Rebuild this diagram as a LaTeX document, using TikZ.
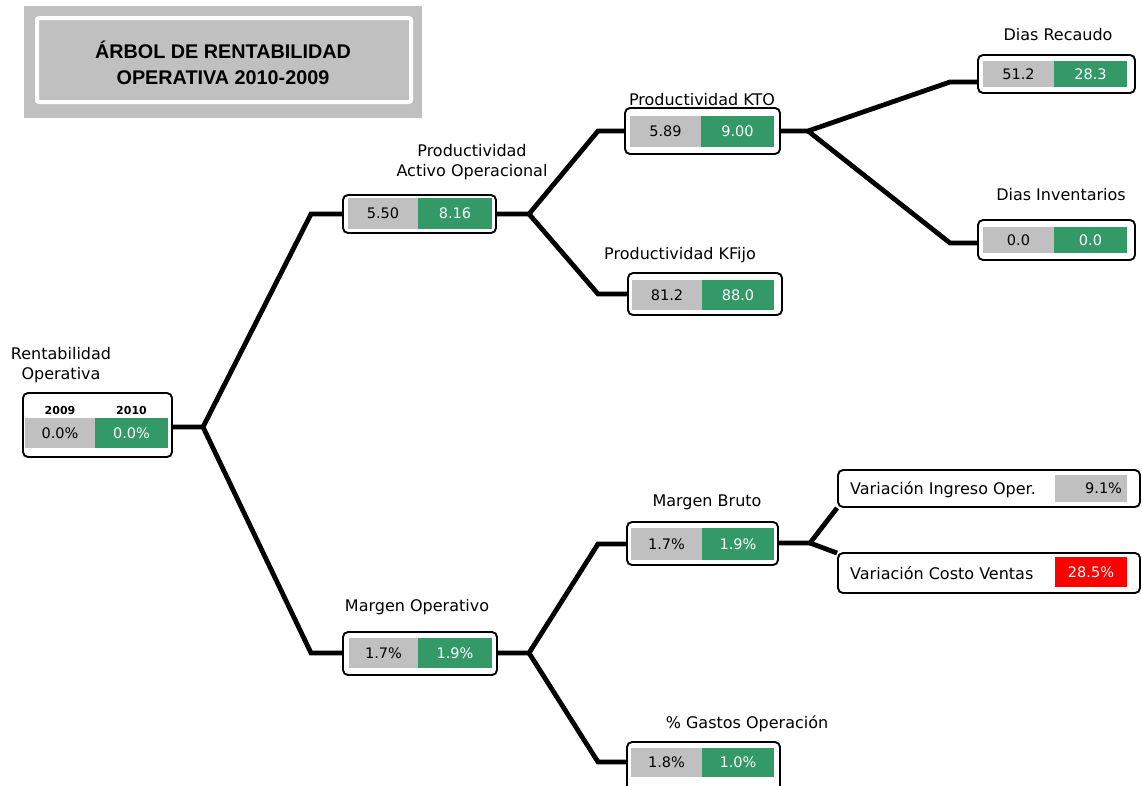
\documentclass[tikz,border=0pt]{standalone}
\usepackage{fontspec}
\setmainfont{DejaVu Sans}
\newfontfamily\ttlfont{Liberation Sans}
\usetikzlibrary{backgrounds}
\definecolor{cgray}{RGB}{192,192,192}
\definecolor{cgreen}{RGB}{51,153,102}
\definecolor{cred}{RGB}{255,0,0}
\newcommand\lblfont{\fontsize{16}{20}\selectfont}
\newcommand\valfont{\fontsize{14.5}{16}\selectfont}
\newcommand\hdrfont{\bfseries\fontsize{11}{12}\selectfont}
\begin{document}
\begin{tikzpicture}[x=1pt,y=-1pt,
  box/.style={draw=black, line width=1.9pt, rounded corners=5pt, fill=white, inner sep=0pt},
  cellg/.style={fill=cgray, inner sep=0pt, text=black, font=\valfont},
  cellv/.style={fill=cgreen, inner sep=0pt, text=white, font=\valfont},
  cellr/.style={fill=cred, inner sep=0pt, text=white, font=\valfont},
  lbl/.style={inner sep=0pt, text=black, font=\lblfont, align=center},
  conn/.style={line width=4.8pt, draw=black}]
\clip (0,0) rectangle (1142,785);

% title
\node[fill=cgray, minimum width=398pt, minimum height=112pt, inner sep=0pt] (titlebg) at (223,62) {};
\draw[white, line width=4pt, rounded corners=2pt] (37,18) rectangle (411,102);
\node[inner sep=0pt, align=center, font=\ttlfont\bfseries\fontsize{19.8}{26}\selectfont] (title) at (223,63) {ÁRBOL DE RENTABILIDAD\\OPERATIVA 2010-2009};

% root
\node[box, minimum width=149pt, minimum height=64pt] (root) at (97.5,425) {};
\node[cellg, minimum width=70pt, minimum height=30pt] (roota) at (60,433) {0.0\%};
\node[cellv, minimum width=73pt, minimum height=30pt] (rootb) at (131.5,433) {0.0\%};
\node[inner sep=0pt, font=\hdrfont] (h09) at (60,410.5) {2009};
\node[inner sep=0pt, font=\hdrfont] (h10) at (131.5,410.5) {2010};
\node[lbl] (rootl) at (61,365) {Rentabilidad\\Operativa};

% productividad activo operacional
\node[box, minimum width=153pt, minimum height=38pt] (act) at (419.5,214) {};
\node[cellg, minimum width=70pt, minimum height=31pt] (acta) at (383,213.5) {5.50};
\node[cellv, minimum width=74pt, minimum height=31pt] (actb) at (455,213.5) {8.16};
\node[lbl] (actl) at (472,162) {Productividad\\Activo Operacional};

% productividad KTO
\node[box, minimum width=155pt, minimum height=46pt] (kto) at (702.5,131) {};
\node[cellg, minimum width=71pt, minimum height=31pt] (ktoa) at (665.5,131.5) {5.89};
\node[cellv, minimum width=73pt, minimum height=31pt] (ktob) at (737.5,131.5) {9.00};
\node[lbl] (ktol) at (702,100) {Productividad KTO};

% productividad KFijo
\node[box, minimum width=154pt, minimum height=42pt] (kfi) at (705,294) {};
\node[cellg, minimum width=70pt, minimum height=30pt] (kfia) at (667,295) {81.2};
\node[cellv, minimum width=72pt, minimum height=30pt] (kfib) at (738,295) {88.0};
\node[lbl] (kfil) at (680,255) {Productividad KFijo};

% dias recaudo
\node[box, minimum width=157pt, minimum height=38pt] (rec) at (1056.5,74) {};
\node[cellg, minimum width=71pt, minimum height=26pt] (reca) at (1018.5,74) {51.2};
\node[cellv, minimum width=73pt, minimum height=26pt] (recb) at (1090.5,74) {28.3};
\node[lbl] (recl) at (1058,35) {Dias Recaudo};

% dias inventarios
\node[box, minimum width=157pt, minimum height=40pt] (inv) at (1056.5,240) {};
\node[cellg, minimum width=71pt, minimum height=26pt] (inva) at (1018.5,240) {0.0};
\node[cellv, minimum width=73pt, minimum height=26pt] (invb) at (1090.5,240) {0.0};
\node[lbl] (invl) at (1061,195) {Dias Inventarios};

% margen operativo
\node[box, minimum width=154pt, minimum height=43pt] (mo) at (420,653.5) {};
\node[cellg, minimum width=69pt, minimum height=30pt] (moa) at (383.5,653) {1.7\%};
\node[cellv, minimum width=74pt, minimum height=30pt] (mob) at (455,653) {1.9\%};
\node[lbl] (mol) at (417,607) {Margen Operativo};

% margen bruto
\node[box, minimum width=151pt, minimum height=43pt] (mb) at (702.5,543.5) {};
\node[cellg, minimum width=71pt, minimum height=32pt] (mba) at (666.5,544) {1.7\%};
\node[cellv, minimum width=72pt, minimum height=32pt] (mbb) at (738,544) {1.9\%};
\node[lbl] (mbl) at (707,502) {Margen Bruto};

% gastos operacion
\node[box, minimum width=153pt, minimum height=58pt] (gas) at (703.5,771) {};
\node[cellg, minimum width=71pt, minimum height=29pt] (gasa) at (666.5,762.5) {1.8\%};
\node[cellv, minimum width=72pt, minimum height=29pt] (gasb) at (738,762.5) {1.0\%};
\node[lbl] (gasl) at (747,724) {\% Gastos Operación};

% variacion ingreso
\node[box, minimum width=302pt, minimum height=37pt] (vi) at (989,488.5) {};
\node[lbl, anchor=west] (vit) at (850,490) {Variación Ingreso Oper.};
\node[cellg, minimum width=72pt, minimum height=27pt, text width=62pt, align=right] (via) at (1091,488.5) {9.1\%};
% variacion costo
\node[box, minimum width=302pt, minimum height=40pt] (vc) at (989,573) {};
\node[lbl, anchor=west] (vct) at (850,573) {Variación Costo Ventas};
\node[cellr, minimum width=72pt, minimum height=30pt] (vca) at (1091,572) {28.5\%};

% connectors
\begin{scope}[on background layer]
\fill[white] (0,0) rectangle (1142,785);
\coordinate (j1) at (203,427);
\coordinate (c1a) at (311,214);
\coordinate (c1b) at (311,653);
\draw[conn] (j1 -| root.east) -- (j1) -- (c1a) -- (act.west);
\draw[conn] (j1) -- (c1b) -- (c1b -| mo.west);
\coordinate (j2) at (529,214);
\coordinate (c2a) at (598,131);
\coordinate (c2b) at (598,294);
\draw[conn] (act.east) -- (j2) -- (c2a) -- (kto.west);
\draw[conn] (j2) -- (c2b) -- (kfi.west);
\coordinate (j3) at (808,131);
\coordinate (c3a) at (950,82);
\coordinate (c3b) at (950,243);
\draw[conn] (kto.east) -- (j3) -- (c3a) -- (c3a -| rec.west);
\draw[conn] (j3) -- (c3b) -- (c3b -| inv.west);
\coordinate (j4) at (529,653);
\coordinate (c4a) at (598,544);
\coordinate (c4b) at (598,762);
\draw[conn] (mo.east |- j4) -- (j4) -- (c4a) -- (c4a -| mb.west);
\draw[conn] (j4) -- (c4b) -- (c4b -| gas.west);
\coordinate (j5) at (810,543);
\draw[conn] (j5 -| mb.east) -- (j5) -- (vi.south west);
\draw[conn] (j5) -- ([yshift=-1pt]vc.north west);
\end{scope}
\end{tikzpicture}
\end{document}
